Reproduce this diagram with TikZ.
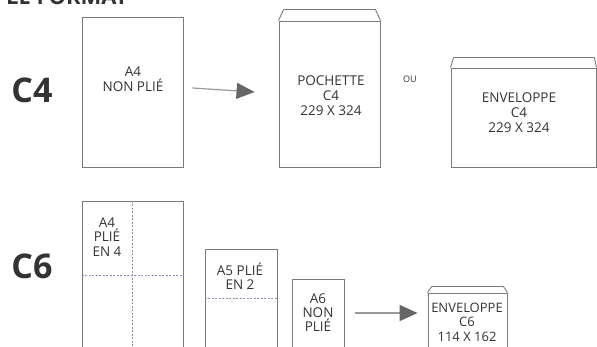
\documentclass[tikz,border=0pt]{standalone}
\usepackage{fontspec}
\setmainfont{Open Sans}
\usetikzlibrary{arrows.meta}
\definecolor{boxline}{HTML}{7A7A7A}
\definecolor{txt}{HTML}{333333}
\definecolor{arrline}{HTML}{9A9A9A}
\definecolor{arrhead}{HTML}{666666}
\definecolor{fold}{HTML}{9088B8}
\tikzset{
  paper/.style={draw=boxline, line width=0.9pt, rectangle, inner sep=0pt},
  lbl/.style={text=txt, font=\fontsize{13.5}{15}\selectfont, align=center, inner sep=0pt},
  big/.style={text=txt, font=\fontsize{34}{36}\selectfont\bfseries, inner sep=0pt, anchor=base},
  flap/.style={draw=boxline, line width=0.9pt, line join=round},
  arr/.style={draw=arrline, line width=1.2pt, -{Triangle[length=18pt,width=16pt,color=arrhead,fill=arrhead]}},
  foldline/.style={draw=fold, line width=0.8pt, dash pattern=on 2pt off 1.5pt}
}
\begin{document}
\begin{tikzpicture}[x=1pt,y=-1pt]
\useasboundingbox (0,0) rectangle (597,347);
\clip (0,0) rectangle (597,347);
% title (cut at top, as in the reference)
\node[text=txt, font=\fontsize{22}{24}\selectfont\bfseries, inner sep=0pt, anchor=base east] (title) at (128,4.5) {LE FORMAT};
% row labels
\node[big] (c4) at (32,103) {C4};
\node[big] (c6) at (32,279) {C6};
% --- C4 row
\node[paper, minimum width=101pt, minimum height=150pt] (a4) at (132.5,92) {};
\node[lbl] (a4t) at (133,79) {A4\\NON PLIÉ};
\node[paper, minimum width=101pt, minimum height=146pt] (poch) at (329.5,94) {};
\draw[flap] (poch.north west) -- ++(5,-11) -- ([xshift=-5pt,yshift=11pt]poch.north east) -- (poch.north east);
\node[lbl] (pocht) at (331,96) {POCHETTE\\C4\\229 X 324};
\node[text=txt, font=\fontsize{9}{10}\selectfont, inner sep=0pt] (ou) at (410,79) {OU};
\node[paper, minimum width=145pt, minimum height=99pt] (env4) at (523.5,117.5) {};
\draw[flap] (env4.north west) -- ++(3,-10) -- ([xshift=-2pt,yshift=10pt]env4.north east) -- (env4.north east);
\node[lbl] (env4t) at (519,113) {ENVELOPPE\\C4\\229 X 324};
\draw[arr] ([xshift=9pt,yshift=4pt]a4.east) -- ([xshift=-24pt,yshift=2pt]poch.west);
% --- C6 row
\node[paper, minimum width=101pt, minimum height=160pt] (a4f) at (132.5,281) {};
\draw[foldline] (a4f.north) -- (a4f.south);
\draw[foldline] (a4f.west |- 0,275) coordinate (h1) -- (a4f.east |- 0,275) coordinate (h2);
\node[lbl, font=\fontsize{13.5}{14.5}\selectfont] (a4ft) at (107,237) {A4\\PLIÉ\\EN 4};
\node[paper, minimum width=72pt, minimum height=120pt] (a5) at (241,309) {};
\draw[foldline] (a5.west |- 0,298) coordinate (h3) -- (a5.east |- 0,298) coordinate (h4);
\node[lbl, font=\fontsize{13.5}{14.5}\selectfont] (a5t) at (240,276) {A5 PLIÉ\\EN 2};
\node[paper, minimum width=52pt, minimum height=90pt] (a6) at (318,324) {};
\node[lbl, font=\fontsize{13.5}{14}\selectfont] (a6t) at (318,313) {A6\\NON\\PLIÉ};
\node[paper, minimum width=79pt, minimum height=70pt] (env6) at (467.5,328) {};
\draw[flap] (env6.north west) -- ++(4,-6) -- ([xshift=-4pt,yshift=6pt]env6.north east) -- (env6.north east);
\node[lbl, font=\fontsize{13}{14.5}\selectfont] (env6t) at (467,322) {ENVELOPPE\\C6\\114 X 162};
\draw[arr] ([xshift=11pt]a6.east |- 0,313) -- ([xshift=-10pt]env6.west |- 0,313);
\end{tikzpicture}
\end{document}
